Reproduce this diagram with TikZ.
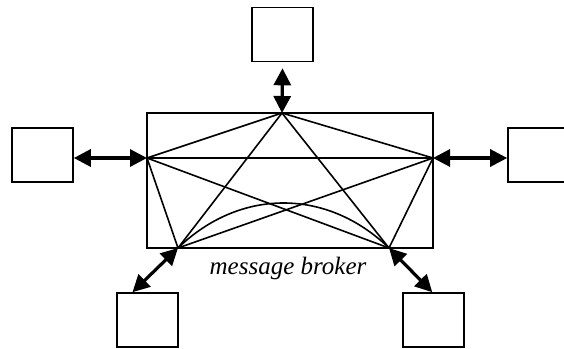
\documentclass[tikz,border=0pt]{standalone}
\usepackage{fontspec}
\setmainfont{Liberation Serif}
\usetikzlibrary{arrows.meta,calc}

\begin{document}
\begin{tikzpicture}[x=1pt, y=-1pt, line width=1.6pt,
    client/.style={draw, minimum width=61pt, minimum height=54pt, inner sep=0pt},
    link/.style={{Triangle[length=17pt,width=17pt]}-{Triangle[length=17pt,width=17pt]}, line width=3.2pt}]
  \useasboundingbox (0,0) rectangle (564,348);
  % broker and its five ports
  \node[draw, minimum width=286pt, minimum height=135pt, inner sep=0pt] (broker) at (290,180.5) {};
  \coordinate (ptop) at (282,113);
  \coordinate (pleft) at (147,158);
  \coordinate (pright) at (433,158);
  \coordinate (pbl) at (178,248);
  \coordinate (pbr) at (389,248);
  % clients
  \node[client] (ctop) at (282.5,34.5) {};
  \node[client] (cleft) at (42.5,155) {};
  \node[client] (cright) at (538.5,155) {};
  \node[client] (cbl) at (147.5,320) {};
  \node[client] (cbr) at (433.5,320) {};
  \coordinate (etop) at ($(ctop.south)+(0,6)$);
  \coordinate (ebl) at ($(cbl.north west)!0.26!(cbl.north east)$);
  \coordinate (ebr) at ($(cbr.north west)!0.48!(cbr.north east)$);
  % mesh inside the broker
  \foreach \a/\b in {ptop/pleft, ptop/pright, ptop/pbl, ptop/pbr, pleft/pright,
                     pleft/pbl, pleft/pbr, pright/pbl, pright/pbr, pbl/pbr}
    \draw (\a) -- (\b);
  \draw (pbl) .. controls ($(pbl)+(62,-60)$) and ($(pbr)+(-62,-60)$) .. (pbr);
  % links
  \draw[link] (etop) -- (ptop);
  \draw[link] (cleft.east |- pleft) -- (pleft);
  \draw[link] (cright.west |- pright) -- (pright);
  \draw[link] (ebl) -- (pbl);
  \draw[link] (ebr) -- (pbr);
  \node[font=\itshape\fontsize{25}{29}\selectfont] (label) at (288,268) {message broker};
\end{tikzpicture}
\end{document}
